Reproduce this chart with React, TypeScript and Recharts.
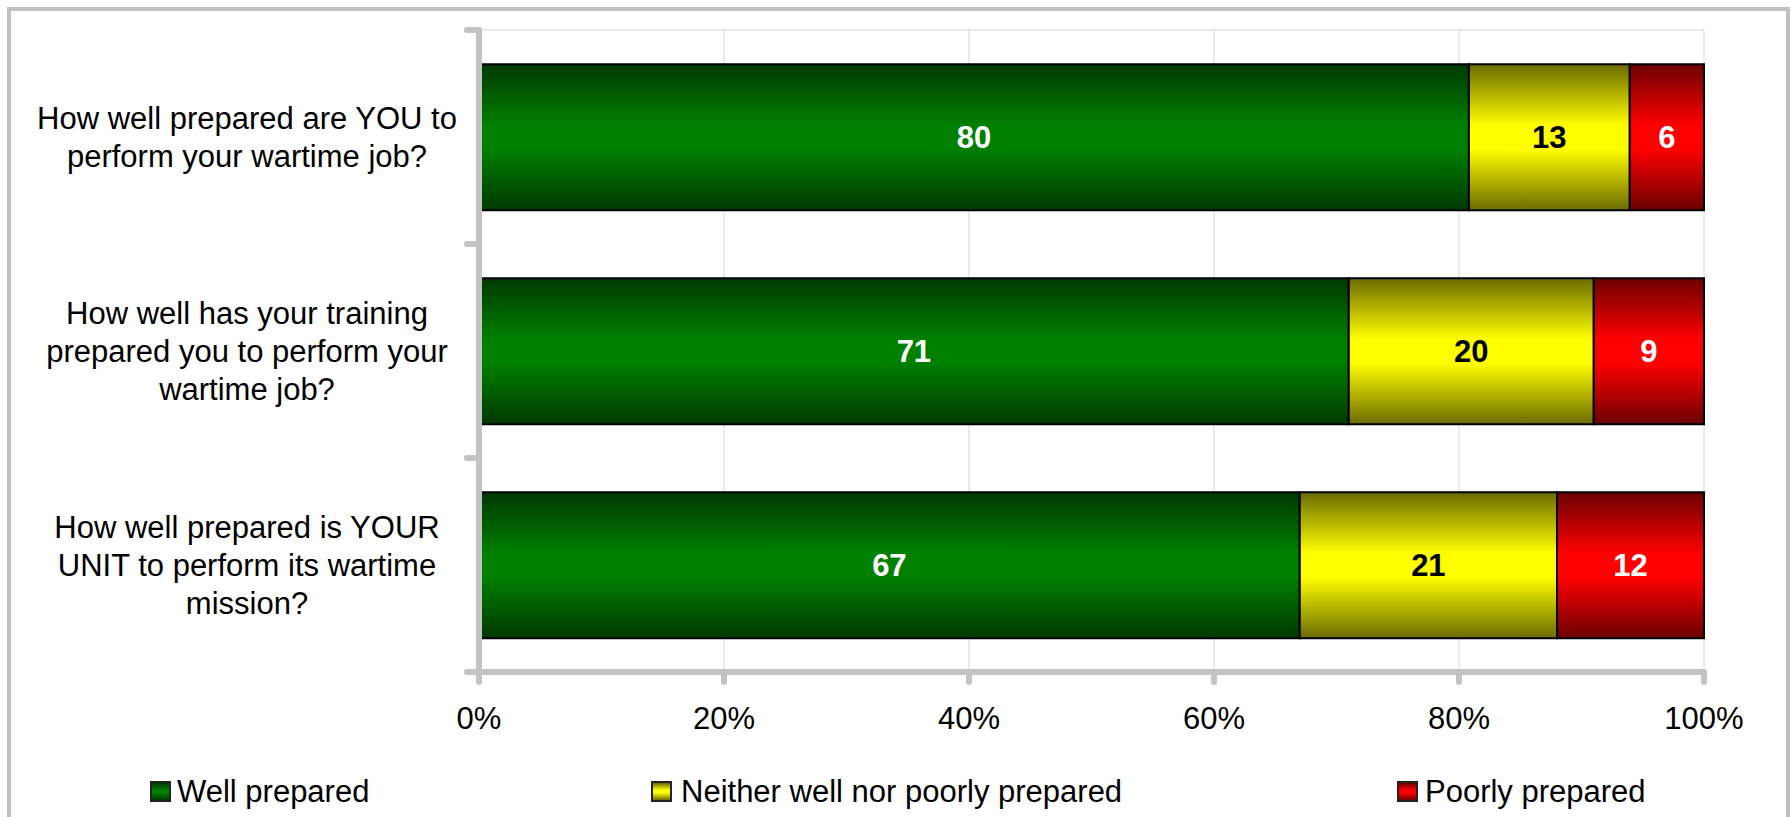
import React from 'react';
import { BarChart, Bar, XAxis, YAxis, CartesianGrid, LabelList } from 'recharts';

const categories = [
  'How well prepared are YOU to\nperform your wartime job?',
  'How well has your training\nprepared you to perform your\nwartime job?',
  'How well prepared is YOUR\nUNIT to perform its wartime\nmission?',
];
const wellPrepared = [80, 71, 67];
const neitherPrepared = [13, 20, 21];
const poorlyPrepared = [6, 9, 12];
const seriesNames = ['Well prepared', 'Neither well nor poorly prepared', 'Poorly prepared'];
const xTicks = [0, 0.2, 0.4, 0.6, 0.8, 1];

const data = categories.map((c, i) => ({
  category: c,
  well: wellPrepared[i],
  neither: neitherPrepared[i],
  poorly: poorlyPrepared[i],
}));

const FONT = '"Liberation Sans", Arial, sans-serif';
const AXIS_GREY = '#c3c3c3';
const FS = 31;

const gradients = [
  { id: 'gGreen', dark: '#003800', bright: '#008000' },
  { id: 'gYellow', dark: '#6b6b00', bright: '#ffff00' },
  { id: 'gRed', dark: '#6b0000', bright: '#ff0000' },
];

const YTick = (props: any) => {
  const { x, y, payload, index } = props;
  const lines = String(payload.value).split('\n');
  const off = payload.offset ?? 0;
  const lh = 38;
  const start = y - ((lines.length - 1) * lh) / 2;
  return (
    <g>
      {index === 0 && (
        <line x1={x - 12} x2={x} y1={y - off} y2={y - off} stroke={AXIS_GREY} strokeWidth={6} strokeLinecap="round" />
      )}
      <line x1={x - 12} x2={x} y1={y + off} y2={y + off} stroke={AXIS_GREY} strokeWidth={6} strokeLinecap="round" />
      <text textAnchor="middle" fontSize={FS} fill="#000" fontFamily={FONT}>
        {lines.map((l, i) => (
          <tspan key={i} x={x - 232} y={start + i * lh} dy="0.35em">
            {l}
          </tspan>
        ))}
      </text>
    </g>
  );
};

const legendItems = [
  { name: seriesNames[0], g: gradients[0], sq: 150, tx: 177 },
  { name: seriesNames[1], g: gradients[1], sq: 651, tx: 681 },
  { name: seriesNames[2], g: gradients[2], sq: 1397, tx: 1425 },
];

export default function App() {
  return (
    <div style={{ position: 'absolute', left: 0, top: 0, width: 1791, height: 817, overflow: 'hidden', background: '#fff' }}>
      <div
        style={{
          position: 'absolute',
          left: 7,
          top: 7,
          width: 1783,
          height: 810,
          boxSizing: 'border-box',
          borderLeft: '4px solid #c0c0c0',
          borderTop: '4px solid #c0c0c0',
          borderRight: '4px solid #c0c0c0',
        }}
      />
      <div style={{ position: 'absolute', left: 0, top: 0 }}>
        <BarChart
          width={1791}
          height={817}
          data={data}
          layout="vertical"
          stackOffset="expand"
          barCategoryGap="16%"
          margin={{ top: 30, right: 87, bottom: 85, left: 0 }}
          style={{ fontFamily: FONT }}
        >
          <defs>
            {gradients.map((g) => (
              <linearGradient key={g.id} id={g.id} x1="0" y1="0" x2="0" y2="1">
                <stop offset="0%" stopColor={g.dark} />
                <stop offset="42%" stopColor={g.bright} />
                <stop offset="58%" stopColor={g.bright} />
                <stop offset="100%" stopColor={g.dark} />
              </linearGradient>
            ))}
          </defs>
          <CartesianGrid
            stroke="#d6d6d6"
            strokeWidth={1}
            horizontalCoordinatesGenerator={(p: any) => [p.offset.top]}
          />
          <XAxis
            type="number"
            domain={[0, 1]}
            ticks={xTicks}
            tickFormatter={(v: number) => `${Math.round(v * 100)}%`}
            height={60}
            tickSize={10}
            tickMargin={25}
            axisLine={{ stroke: AXIS_GREY, strokeWidth: 6, strokeLinecap: 'round' }}
            tickLine={{ stroke: AXIS_GREY, strokeWidth: 6, strokeLinecap: 'round' }}
            tick={{ fill: '#000', fontSize: FS, fontFamily: FONT }}
            interval={0}
          />
          <YAxis
            type="category"
            dataKey="category"
            width={479}
            tickSize={0}
            tickMargin={0}
            tickLine={false}
            axisLine={{ stroke: AXIS_GREY, strokeWidth: 6, strokeLinecap: 'round' }}
            tick={<YTick />}
            interval={0}
          />
          <Bar dataKey="well" name={seriesNames[0]} stackId="a" fill="url(#gGreen)" stroke="#000" strokeWidth={2} isAnimationActive={false}>
            <LabelList dataKey="well" position="center" fill="#fff" fontSize={FS} fontWeight="bold" fontFamily={FONT} />
          </Bar>
          <Bar dataKey="neither" name={seriesNames[1]} stackId="a" fill="url(#gYellow)" stroke="#000" strokeWidth={2} isAnimationActive={false}>
            <LabelList dataKey="neither" position="center" fill="#000" fontSize={FS} fontWeight="bold" fontFamily={FONT} />
          </Bar>
          <Bar dataKey="poorly" name={seriesNames[2]} stackId="a" fill="url(#gRed)" stroke="#000" strokeWidth={2} isAnimationActive={false}>
            <LabelList dataKey="poorly" position="center" fill="#fff" fontSize={FS} fontWeight="bold" fontFamily={FONT} />
          </Bar>
        </BarChart>
      </div>
      {legendItems.map((it) => (
        <React.Fragment key={it.name}>
          <div
            style={{
              position: 'absolute',
              left: it.sq,
              top: 781,
              width: 21,
              height: 21,
              boxSizing: 'border-box',
              border: '2px solid #222',
              background: `linear-gradient(to bottom, ${it.g.dark}, ${it.g.bright} 42%, ${it.g.bright} 58%, ${it.g.dark})`,
            }}
          />
          <div
            style={{
              position: 'absolute',
              left: it.tx,
              top: 776,
              fontFamily: FONT,
              fontSize: FS,
              lineHeight: '31px',
              color: '#000',
              whiteSpace: 'nowrap',
            }}
          >
            {it.name}
          </div>
        </React.Fragment>
      ))}
    </div>
  );
}
